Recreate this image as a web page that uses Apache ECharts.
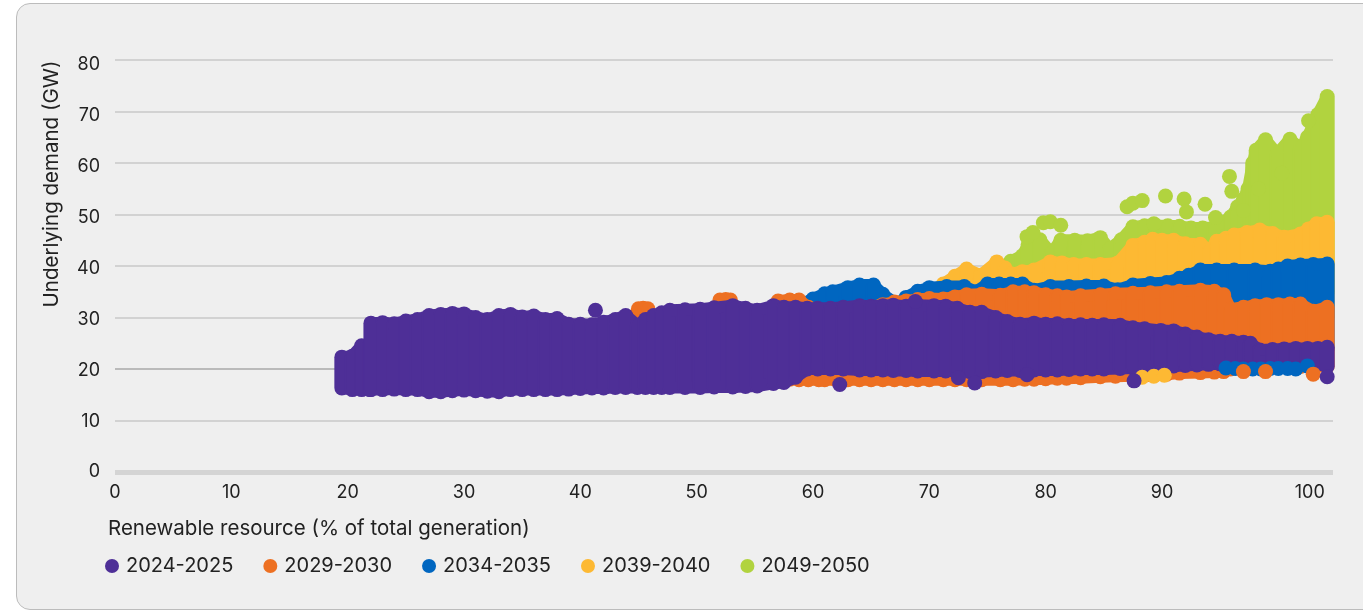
<!DOCTYPE html>
<html>
<head>
<meta charset="utf-8">
<title>Underlying demand vs renewable resource</title>
<script src="https://cdn.jsdelivr.net/npm/echarts@6/dist/echarts.min.js"></script>
<style>
  html, body { margin: 0; height: 100%; background: #fff; overflow: hidden; }
  #card { position: absolute; left: 16px; top: 3px; width: 1400px; height: 605px; background: #efefef; border: 1.5px solid #bcbcbc; border-radius: 14px; }
  #chart { position: absolute; left: 0; top: 0; width: 1363px; height: 610px; }
</style>
</head>
<body>
<div id="card"></div>
<div id="chart"></div>
<script>
const FONT = 'Inter, "Noto Sans", sans-serif';
const SERIES_NAMES = ['2024-2025', '2029-2030', '2034-2035', '2039-2040', '2049-2050'];
const yTicks = [0, 10, 20, 30, 40, 50, 60, 70, 80];
// the "100" label sits off the regular 10-step spacing in the source, so tick values and labels are separate
const xTickValues = [0, 10, 20, 30, 40, 50, 60, 70, 80, 90, 102.7];
const xTickLabels = ['0', '10', '20', '30', '40', '50', '60', '70', '80', '90', '100'];

// clouds are read as columns: [x, lowest y, highest y]
const cloud2024 = [
  [19.5,16.3,22.3],[20.4,16,22.5],[21.2,16,24.5],[21.9,16,24.6],[22,16,28.9],[23,16,29],[24,16.1,28.8],[25,16,29.3],[26,16,29.6],
  [27,15.6,30.4],[28,15.6,30.6],[29,15.8,30.8],[30,15.9,30.7],[31,15.8,30],[32,15.7,29.6],[33,15.6,30.4],[34,16,30.6],
  [35,16,30.1],[36,16,30.3],[37,16,29.6],[38,16,29.8],[39,16.1,28.7],[40,16.2,28.7],[41,16.3,28.6],[42,16.3,29.1],
  [43,16.4,29.6],[43.9,16.4,30.4],[44.9,16.4,28.5],[45.6,16.4,29.6],[46.3,16.4,30.4],[47,16.4,30.9],[47.7,16.4,31.4],
  [49,16.4,31.5],[50.3,16.4,31.6],[51.5,16.5,31.9],[53.1,16.5,32.3],[54.2,16.6,31.8],[55.2,16.7,31.4],[56.6,17.2,32.3],
  [57.5,17.4,32],[58.5,18.4,32],[59.5,20,31.8],[60.4,20,31.8],[61.5,20,31.8],[62.6,20,32],[64,19.8,32.3],[65,19.8,32.2],
  [66,19.8,32.3],[66.9,19.7,32.4],[68,19.7,32.2],[69,19.6,32.4],[70.4,19.6,32.3],[71.4,19.6,32.2],[72.4,19.6,31.8],
  [73.5,19.5,31],[74.5,19.5,31],[75.7,19.6,30],[76.7,19.7,29.2],[77.8,19.7,28.7],[79,19.8,28.9],[80,19.8,28.7],
  [81,19.8,28.8],[82,19.9,28.5],[83,20,28.6],[84,20,28.5],[85,20,28.6],[86.4,20.1,28.5],[87.5,20.2,28],[88.5,20.3,27.8],
  [89.9,20.5,27.5],[91,20.6,27.4],[92,20.7,26.8],[93,20.8,26.2],[94,20.9,25.7],[95,21,25.4],[96,21,25.4],[97,21,25.2],
  [97.6,21,25],[98.4,21,23.7],[99.5,21,23.8],[100.5,21,23.9],[101.5,21.1,24],[102.5,21.1,24],[103.4,21,24],[104.2,20.5,24.2]
];
const dots2024 = [[41.3,31.4],[62.3,17],[68.8,33.1],[72.5,18.3],[73.9,17.3],[78.4,18.9],[87.6,17.7],[104.2,18.5]];

const cloud2029 = [
  [44.2,20,29],[45,20,31.7],[45.4,20,31.8],[45.8,20,31.7],[46.6,20,29],[51.3,20,30],[52,20,33.4],[52.5,20,33.5],[52.9,20,33.4],[53.7,20,30],
  [56.4,18,31],[57,18,33.2],[58,18,33.4],[58.8,17.9,33.4],[59.6,17.9,32],[60.5,17.9,31],[61,17.9,31],[62,17.9,31],[63,17.9,31],[64,17.9,31],
  [65,17.9,32],[66,17.9,32.5],[67,17.9,33],[68,17.9,33.2],[69,17.9,33.5],[70,17.9,33.7],[71.2,17.9,33.6],[72.2,17.9,34],
  [73.2,17.9,34.4],[74.5,17.9,34.5],[76.1,17.9,34.3],[77.2,17.9,35],[78.2,18,35],[79,18,34.8],[80,18.1,34.4],[81,18.2,34.2],
  [81.8,18.2,34],[83,18.3,34.2],[84.7,18.5,34.4],[86,18.6,34.6],[87.5,18.7,34.7],[89,18.9,34.8],[90.4,19,35],[91.5,19.2,35.1],
  [93.3,19.3,35.3],[94.5,19.4,35.1],[95.3,19.5,34.4],[95.9,20,31.6],[97,20.3,32],[98,20.3,32.3],[99,20.3,32.5],[100,20.4,32.5],
  [101,20.5,32.6],[101.9,20.5,32.6],[103,20.5,31.2],[104.2,20.5,32]
];
const dots2029 = [[97,19.5],[98.9,19.5],[103,19]];

const cloud2034 = [
  [58.9,24,32.5],[60,24,33.6],[61,24,34.6],[61.7,24,35],[63,24,35.8],[64,24,36.3],[65.2,24,36.3],[66,24,34.5],[67.2,24,32.6],
  [68,24,33.9],[69,24,35.1],[70,24,35.8],[71.5,24,36],[73,24,36],[74,24,35],[75,24,36.5],[76,24,36.5],[77,24,36.5],[78,24,36.5],
  [79,24,35.3],[80.4,24,36],[82,24,36],[83.5,24,36.1],[85,24,36.1],[86.2,24,35.4],[87.5,24,36.3],[89,24,36.6],[90.4,24,36.8],
  [91.5,24,37.6],[92.3,24,38.2],[93.3,24,39.2],[94.7,24,39.2],[96.2,24,39.2],[98,24,39.2],[99.3,24,39],[100,24,39.4],[100.8,24,40],
  [101.9,24,40.2],[103,24,40.3],[104.2,24,40.4]
];
const dots2034 = [[95.5,20.2],[96.3,20.1],[97,20],[97.8,20],[98.5,20],[99.3,20.1],[100,20.1],[100.8,20.1],[101.5,20],[102.5,20.6]];

const cloud2039 = [
  [71.2,30,36.5],[72.2,30,38],[73.2,30,39.4],[74.4,30,38.2],[75.8,30,40.8],[76.5,30,39.6],[77,30,38.5],[78,30,38.9],[79,30,39.2],
  [80.4,30,40.8],[81.4,30,40.6],[82.4,30,40.3],[83.5,30,40.3],[84.7,30,40.3],[86.2,30,40.6],[87.5,30,44],[88.5,30,44.6],[89.2,30,45.2],
  [90,30,45],[91,30,45],[92,30,44.3],[93.3,30,44.2],[94.1,30,43.2],[94.7,30,44.8],[95.5,30,45.4],[96.2,30,46],[97.3,30,46.5],
  [98.4,30,47],[99.5,30,46.3],[100.5,30,45.6],[101.9,30,46.2],[102.6,30,47.2],[103.3,30,48.2],[104.2,30,48.5]
];
const dots2039 = [[88.3,18.4],[89.3,18.6],[90.2,18.8]];

const cloud2049 = [
  [76,35,39.5],[77,35,40.9],[78,35,42],[78.5,35,44.2],[79.5,35,45.1],[80.5,35,42.5],[81.3,35,45],[82.5,35,45],[83.6,35,44.9],
  [84.7,35,45.5],[85.5,35,43.3],[86.5,35,45.1],[87.5,35,47.6],[88.5,35,47.8],[89.5,35,47.8],[90.5,35,47.8],[91.5,35,47.7],
  [92.5,35,47.4],[93.5,35,47.4],[94.5,35,47.5],[95.9,35,49.5],[96.5,35,51.5],[97,35,53],[97.4,35,55],[97.8,35,60],[98.1,35,62.5],[98.9,35,64.5],[99.9,35,61.8],
  [101,35,64.6],[101.9,35,62.8],[102.5,35,65],[103.4,35,69.4],[104.2,35,72.9]
];
const dots2049 = [
  [78.4,45.7],[78.9,46.5],[79.8,48.4],[80.4,48.6],[81.3,47.9],[87,51.5],[87.5,52.2],[88.3,52.7],[89.3,48.2],[90.3,53.6],
  [91.9,53],[92.1,50.5],[93.7,52],[94.6,49.4],[95.8,57.4],[96,54.5],[97,50.8],[98.3,55],[100.3,58],[102.6,68.2]
];

const COLORS = ['#4e2f97', '#ed7022', '#0066c0', '#fdb933', '#b1d33f'];
const clouds = [cloud2024, cloud2029, cloud2034, cloud2039, cloud2049];
const dots = [dots2024, dots2029, dots2034, dots2039, dots2049];
const DOT_SIZE = 15;

// one column with round ends, plus the patch joining it to the next column
function columnRenderer(cloud) {
  return function (params, api) {
    let color = api.visual('color');
    let row = cloud[params.dataIndex];
    let next = cloud[params.dataIndex + 1];
    let low = api.coord([row[0], row[1]]);
    let high = api.coord([row[0], row[2]]);
    let children = [{
      type: 'line',
      shape: { x1: low[0], y1: low[1], x2: high[0], y2: high[1] },
      style: { stroke: color, lineWidth: DOT_SIZE, lineCap: 'round' }
    }];
    if (next) {
      children.push({
        type: 'polygon',
        shape: { points: [low, high, api.coord([next[0], next[2]]), api.coord([next[0], next[1]])] },
        style: { fill: color, stroke: color, lineWidth: DOT_SIZE - 3, lineJoin: 'round' }
      });
    }
    return { type: 'group', children: children };
  };
}

// oldest period has to end up on top, so draw from the last one back
let series = [];
for (let i = SERIES_NAMES.length - 1; i >= 0; i--) {
  series.push({
    name: SERIES_NAMES[i],
    type: 'custom',
    renderItem: columnRenderer(clouds[i]),
    encode: { x: 0, y: [1, 2] },
    clip: false,
    itemStyle: { color: COLORS[i] },
    data: clouds[i]
  });
  series.push({
    name: SERIES_NAMES[i],
    type: 'scatter',
    symbolSize: DOT_SIZE,
    clip: false,
    itemStyle: { color: COLORS[i], opacity: 1 },
    data: dots[i]
  });
}

let chart = echarts.init(document.getElementById('chart'));
chart.setOption({
  animation: false,
  textStyle: { fontFamily: FONT },
  grid: { left: 115, right: 30, top: 60, bottom: 138 },
  xAxis: {
    type: 'value',
    min: 0,
    max: 104.7,
    splitLine: { show: false },
    axisTick: { show: false },
    axisLine: { show: true, lineStyle: { color: '#d4d4d4', width: 5, cap: 'butt' } },
    axisLabel: {
      customValues: xTickValues,
      formatter: (value) => xTickLabels[xTickValues.indexOf(value)],
      color: '#222',
      fontSize: 18,
      margin: 12,
      hideOverlap: false,
      showMaxLabel: true
    }
  },
  yAxis: [
    {
      type: 'value',
      min: yTicks[0],
      max: yTicks[yTicks.length - 1],
      interval: 10,
      splitLine: { lineStyle: { color: ['#c9c9c9', '#c9c9c9', '#a8a8a8', '#c9c9c9', '#c9c9c9', '#c9c9c9', '#c9c9c9', '#c9c9c9', '#c9c9c9'], width: 1.5 } },
      axisTick: { show: false },
      axisLine: { show: false },
      axisLabel: { show: false }
    },
    {
      // labels only: the source's tick labels run a little tighter than its gridlines
      type: 'value',
      position: 'left',
      min: 0,
      max: 81,
      splitLine: { show: false },
      axisTick: { show: false },
      axisLine: { show: false },
      axisLabel: { customValues: yTicks, color: '#222', fontSize: 18, margin: 15, hideOverlap: false }
    }
  ],
  legend: {
    left: 100,
    top: 551,
    data: SERIES_NAMES,
    icon: 'circle',
    itemWidth: 14,
    itemHeight: 14,
    itemGap: 30,
    textStyle: { color: '#222', fontSize: 20, fontFamily: FONT, padding: [0, 0, 0, 2] }
  },
  graphic: [
    {
      type: 'text',
      x: 108,
      y: 529,
      style: { text: 'Renewable resource (% of total generation)', fill: '#222', font: '20.5px ' + FONT, textVerticalAlign: 'middle' }
    },
    {
      type: 'text',
      x: 52,
      y: 184,
      rotation: Math.PI / 2,
      style: { text: 'Underlying demand (GW)', fill: '#222', font: '20.5px ' + FONT, textAlign: 'center', textVerticalAlign: 'middle' }
    }
  ],
  series: series
});
</script>
</body>
</html>
